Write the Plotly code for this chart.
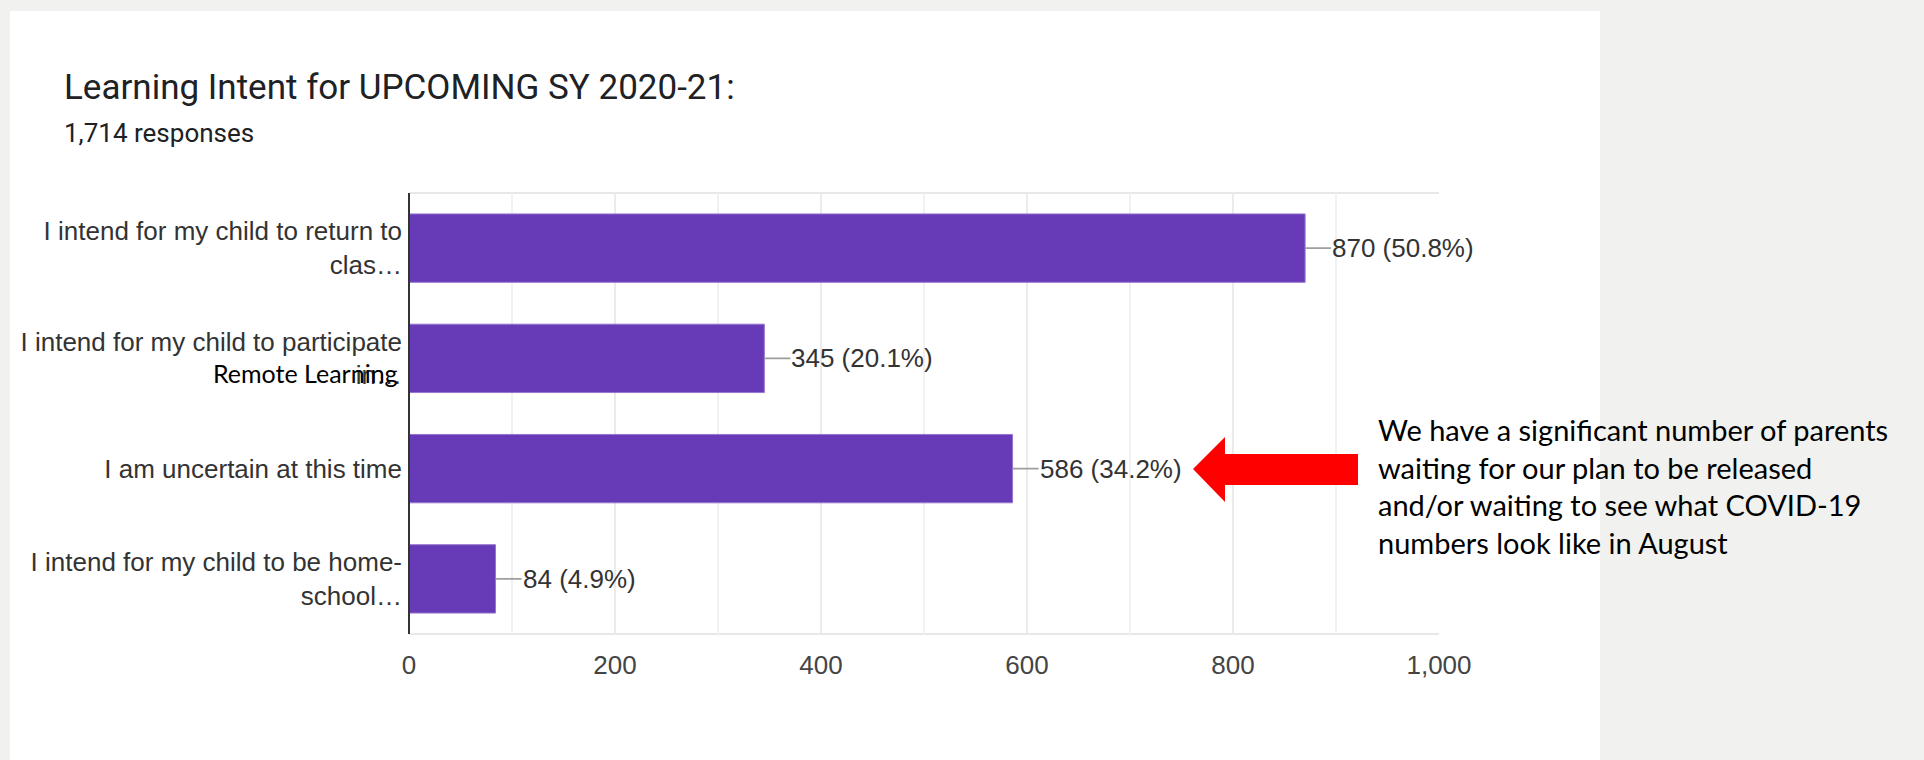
import plotly.graph_objects as go

categories = [
    "I intend for my child to return to<br>clas…",
    "I intend for my child to participate<br>in…",
    "I am uncertain at this time",
    "I intend for my child to be home-<br>school…",
]
counts = [870, 345, 586, 84]
percents = ["50.8%", "20.1%", "34.2%", "4.9%"]
x_tickvals = [0, 200, 400, 600, 800, 1000]
x_ticktext = ["0", "200", "400", "600", "800", "1,000"]

title_text = "Learning Intent for UPCOMING SY 2020-21:"
subtitle_text = "1,714 responses"
note_text = ("We have a significant number of parents<br>waiting for our plan to be released"
             "<br>and/or waiting to see what COVID-19<br>numbers look like in August")
overlay_text = "Remote Learning"

W, H = 1924, 760
PL, PR, PT, PB = 409, 1439, 193, 634  # plot area in pixels


def px(xp):
    return (xp - PL) / (PR - PL)


def py(yp):
    return (PB - yp) / (PB - PT)


fig = go.Figure()
fig.add_trace(go.Bar(
    x=counts, y=categories, orientation="h",
    marker=dict(color="#673ab7", line=dict(color="#9575cd", width=1)),
    width=0.62, hoverinfo="skip",
))

annotations = []
for c, v, p in zip(categories, counts, percents):
    annotations.append(dict(
        x=v, y=c, xref="x", yref="y", text=f"{v} ({p})",
        showarrow=True, ax=26, ay=0, arrowhead=0, arrowwidth=1.6,
        arrowcolor="#9e9e9e", xanchor="left", yanchor="middle",
        standoff=0, startstandoff=0, borderpad=0,
        font=dict(family="Liberation Sans, Arial", size=26, color="#333333"),
    ))

# titles
annotations.append(dict(x=px(62), y=py(88), xref="paper", yref="paper", text=title_text,
                        showarrow=False, xanchor="left", yanchor="middle",
                        font=dict(family="Roboto", size=35, color="#202124")))
annotations.append(dict(x=px(62), y=py(133), xref="paper", yref="paper", text=subtitle_text,
                        showarrow=False, xanchor="left", yanchor="middle",
                        font=dict(family="Roboto", size=26, color="#202124")))
# overlay text
annotations.append(dict(x=px(400), y=py(373), xref="paper", yref="paper", text=overlay_text,
                        showarrow=False, xanchor="right", yanchor="middle",
                        font=dict(family="Lato", size=25, color="#000000")))
# note text
annotations.append(dict(x=px(1376), y=py(486), xref="paper", yref="paper", text=note_text,
                        showarrow=False, xanchor="left", yanchor="middle", align="left",
                        font=dict(family="Lato", size=29, color="#000000")))

shapes = [
    dict(type="rect", xref="paper", yref="paper", x0=px(10), x1=px(1600), y0=py(11), y1=py(800),
         fillcolor="#ffffff", line=dict(width=0), layer="below"),
    dict(type="path", xref="paper", yref="paper",
         path=(f"M {px(1193)} {py(469)} L {px(1225)} {py(437)} L {px(1225)} {py(454)} "
               f"L {px(1358)} {py(454)} L {px(1358)} {py(485)} L {px(1225)} {py(485)} "
               f"L {px(1225)} {py(502)} Z"),
         fillcolor="#ff0000", line=dict(width=0), layer="above"),
    # plot frame (top, bottom)
    dict(type="line", xref="paper", yref="paper", x0=0, x1=1, y0=1, y1=1,
         line=dict(color="#e8e8e8", width=2), layer="below"),
    dict(type="line", xref="paper", yref="paper", x0=0, x1=1, y0=0, y1=0,
         line=dict(color="#e8e8e8", width=2), layer="below"),
    # axis line
    dict(type="line", xref="paper", yref="paper", x0=0, x1=0, y0=0, y1=1,
         line=dict(color="#333333", width=2), layer="above"),
]

fig.update_layout(
    width=W, height=H,
    margin=dict(l=PL, r=W - PR, t=PT, b=H - PB, pad=0),
    paper_bgcolor="#f1f1ef", plot_bgcolor="#ffffff",
    showlegend=False, bargap=0.38,
    annotations=annotations, shapes=shapes,
    xaxis=dict(range=[0, 1000], tickvals=x_tickvals, ticktext=x_ticktext,
               showgrid=True, gridcolor="#ebebeb", gridwidth=2, zeroline=False,
               minor=dict(dtick=100, tick0=0, showgrid=True, gridcolor="#f1f1f1", gridwidth=2),
               ticks="", ticklabelstandoff=13,
               tickfont=dict(family="Liberation Sans, Arial", size=26, color="#444444"),
               showline=False, fixedrange=True),
    yaxis=dict(autorange="reversed", showgrid=False, zeroline=False, ticks="",
               ticklabelstandoff=6,
               tickfont=dict(family="Liberation Sans, Arial", size=26, color="#333333"),
               showline=False, fixedrange=True),
)

fig.write_html("out.html", config={"displayModeBar": False},
               post_script="document.body.style.margin='0';")
